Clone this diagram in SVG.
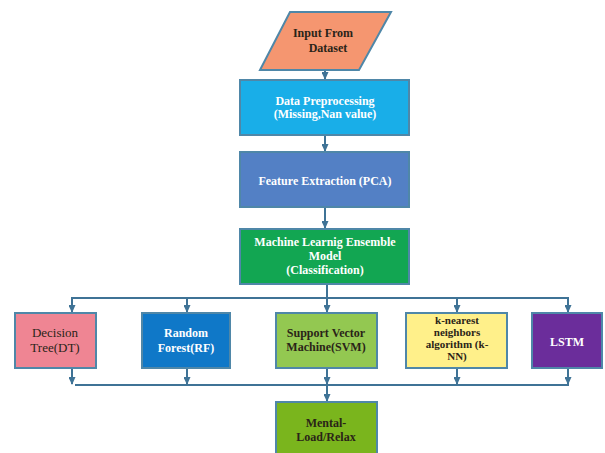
<svg xmlns="http://www.w3.org/2000/svg" width="605" height="453" viewBox="0 0 605 453">
<style>
.box{stroke:#4F87A8;stroke-width:2}
.t{font-family:"Liberation Serif","Times New Roman",serif;font-size:12px;font-weight:bold;text-anchor:middle}
.n{font-weight:normal;font-size:13px}
.s{font-size:11px}
.w{fill:#ffffff}
.d{fill:#2a2418}
.c{stroke:#3F7396;stroke-width:2;fill:none}
</style>
<defs>
<marker id="ah" markerWidth="8" markerHeight="7" refX="7" refY="3.5" orient="auto" markerUnits="userSpaceOnUse">
<path d="M0,0 L8,3.5 L0,7 Z" fill="#3F7396"/>
</marker>
</defs>
<rect width="605" height="453" fill="#ffffff"/>
<g id="connectors">
<line class="c" x1="325" y1="70" x2="325" y2="79" marker-end="url(#ah)"/>
<line class="c" x1="325" y1="136" x2="325" y2="151" marker-end="url(#ah)"/>
<line class="c" x1="325" y1="208" x2="325" y2="228" marker-end="url(#ah)"/>
<line class="c" x1="327" y1="284" x2="327" y2="312" marker-end="url(#ah)"/>
<line class="c" x1="72" y1="298" x2="568" y2="298"/>
<line class="c" x1="72" y1="297" x2="72" y2="312" marker-end="url(#ah)"/>
<line class="c" x1="187" y1="298" x2="187" y2="312" marker-end="url(#ah)"/>
<line class="c" x1="457" y1="298" x2="457" y2="312" marker-end="url(#ah)"/>
<line class="c" x1="568" y1="297" x2="568" y2="312" marker-end="url(#ah)"/>
<line class="c" x1="72" y1="368" x2="72" y2="384" marker-end="url(#ah)"/>
<line class="c" x1="187" y1="368" x2="187" y2="384" marker-end="url(#ah)"/>
<line class="c" x1="327" y1="368" x2="327" y2="384" marker-end="url(#ah)"/>
<line class="c" x1="457" y1="368" x2="457" y2="384" marker-end="url(#ah)"/>
<line class="c" x1="568" y1="368" x2="568" y2="384" marker-end="url(#ah)"/>
<line class="c" x1="75" y1="385" x2="569" y2="385"/>
<line class="c" x1="327" y1="385" x2="327" y2="401" marker-end="url(#ah)"/>
</g>
<g id="input">
<polygon class="box" points="290,12 391,12 359,70 260,70" fill="#F59670"/>
<text class="t d" x="323" y="37">Input From</text>
<text class="t d" x="328" y="52">Dataset</text>
</g>
<g id="preprocessing">
<rect class="box" x="240" y="80" width="169" height="55" fill="#19AEE8"/>
<text class="t w" x="325" y="105">Data Preprocessing</text>
<text class="t w" x="325" y="118">(Missing,Nan value)</text>
</g>
<g id="feature">
<rect class="box" x="240" y="152" width="169" height="55" fill="#5380C5"/>
<text class="t w" x="325" y="185">Feature Extraction (PCA)</text>
</g>
<g id="ensemble">
<rect class="box" x="240" y="229" width="169" height="55" fill="#12A652"/>
<text class="t w" x="325" y="246">Machine Learnig  Ensemble</text>
<text class="t w" x="325" y="260">Model</text>
<text class="t w" x="325" y="274">(Classification)</text>
</g>
<g id="dt">
<rect class="box" x="15" y="313" width="81" height="55" fill="#EF8593"/>
<text class="t d n" x="55" y="337">Decision</text>
<text class="t d n" x="55" y="352">Tree(DT)</text>
</g>
<g id="rf">
<rect class="box" x="142" y="313" width="88" height="55" fill="#0F78C8"/>
<text class="t w" x="186" y="337">Random</text>
<text class="t w" x="186" y="352">Forest(RF)</text>
</g>
<g id="svm">
<rect class="box" x="276" y="313" width="101" height="55" fill="#93C851"/>
<text class="t d" x="326" y="337">Support Vector</text>
<text class="t d" x="326" y="351">Machine(SVM)</text>
</g>
<g id="knn">
<rect class="box" x="406" y="313" width="101" height="55" fill="#FFF08A"/>
<text class="t d s" x="457" y="324">k-nearest</text>
<text class="t d s" x="457" y="336">neighbors</text>
<text class="t d s" x="457" y="348">algorithm (k-</text>
<text class="t d s" x="457" y="360">NN)</text>
</g>
<g id="lstm">
<rect class="box" x="532" y="313" width="70" height="55" fill="#6B2D9B"/>
<text class="t w" x="567" y="346">LSTM</text>
</g>
<g id="mental">
<rect class="box" x="276" y="402" width="101" height="60" fill="#7AB51D"/>
<text class="t d" x="326" y="427">Mental-</text>
<text class="t d" x="326" y="441">Load/Relax</text>
</g>
</svg>
